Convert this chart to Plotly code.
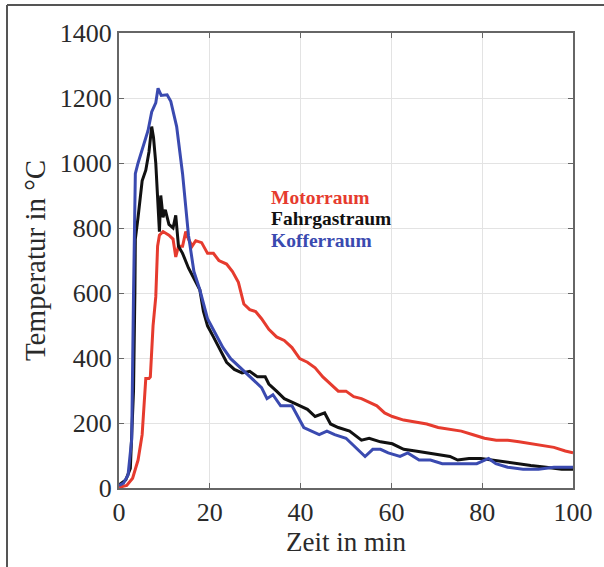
import plotly.graph_objects as go

# Motorraum (red)
motor_x = [0, 1.7, 3, 4.2, 5.1, 5.5, 5.9, 6.6, 6.9, 7.5, 8.1, 8.5, 8.9, 9.7, 11, 11.9, 12.5, 13.1, 14, 14.7,
           15.3, 16.1, 16.9, 18.2, 19.5, 20.8, 22, 23.7, 25, 26.3, 27.5, 28.8, 30.1, 31.4, 33, 34.7, 36.4, 38.1,
           39.8, 41.5, 43.2, 44.9, 46.6, 48.3, 50, 51.7, 53.4, 55.1, 56.8, 58.5, 60.2, 62.7, 65.3, 67.8, 70.3,
           72.9, 75.4, 78, 80.5, 83.1, 85.6, 88.1, 90.7, 93.2, 95.8, 98.3, 100]
motor_y = [2, 8, 30, 86, 164, 264, 337, 337, 342, 499, 588, 744, 778, 789, 778, 766, 711, 744, 744, 789,
           766, 744, 761, 755, 722, 722, 700, 689, 666, 633, 566, 549, 543, 521, 488, 465, 454, 432,
           398, 387, 370, 342, 320, 298, 298, 281, 275, 264, 253, 231, 220, 209, 203, 197, 186,
           181, 175, 164, 153, 147, 147, 142, 136, 131, 125, 114, 108]

# Fahrgastraum (black)
fahr_x = [0, 1.5, 2.5, 3.2, 3.5, 3.6, 4.2, 5.1, 5.9, 6.6, 7.2, 7.6, 8.1, 8.5, 8.9, 9.2, 9.7, 10.2, 11, 11.9,
          12.5, 13.1, 14, 15.3, 16.5, 17.8, 18.6, 19.5, 20.8, 22, 23.7, 25.4, 27.1, 28.8, 30.5, 32.2, 33,
          34.7, 36.4, 38.1, 39.8, 41.5, 43.2, 45.3, 46.6, 48.3, 50.8, 53.4, 55.1, 57.6, 60.2, 62.7, 65.3,
          67.8, 70.3, 72.9, 74.6, 77.1, 79.7, 82.2, 84.7, 87.3, 90.7, 94.1, 97.5, 100]
fahr_y = [10, 25, 60, 300, 600, 766, 833, 945, 978, 1034, 1112, 1079, 1000, 878, 789, 900, 833, 856, 811, 800,
          839, 744, 722, 677, 644, 610, 543, 499, 465, 432, 387, 365, 354, 359, 342, 342, 320,
          298, 275, 264, 253, 242, 220, 231, 197, 186, 175, 147, 153, 142, 136, 119, 114,
          108, 103, 97, 86, 91, 91, 86, 80, 75, 69, 64, 58, 58]

# Kofferraum (blue)
koffer_x = [0, 1, 2, 2.8, 3.2, 3.6, 4.2, 5.5, 6.4, 7.2, 8.1, 8.6, 9.3, 10.6, 11.4, 12.7, 14, 15.3, 16.5, 17.8,
            19.5, 21.2, 22.9, 24.6, 26.3, 28, 29.7, 31.4, 32.6, 33.9, 35.6, 38.1, 40.7, 42.4, 44.1, 45.8,
            47.5, 50, 52.5, 54.2, 55.9, 57.6, 59.3, 61.9, 63.6, 66.1, 68.6, 71.2, 73.7, 76.3, 78.8, 81.4,
            83, 85.6, 89, 92.4, 95.8, 100]
koffer_y = [8, 15, 40, 150, 600, 967, 1000, 1056, 1100, 1157, 1185, 1230, 1208, 1210, 1190, 1112, 967, 778, 666, 610,
            521, 476, 432, 398, 376, 354, 331, 309, 275, 287, 253, 253, 186, 175, 164, 175,
            164, 153, 119, 97, 119, 119, 108, 97, 108, 86, 86, 75, 75, 75, 75, 91,
            75, 64, 58, 58, 64, 64]

legend_labels = ["Motorraum", "Fahrgastraum", "Kofferraum"]
legend_y = [893, 830, 762]

x_ticks = [0, 20, 40, 60, 80, 100]
y_ticks = [0, 200, 400, 600, 800, 1000, 1200, 1400]

RED = "#e63b2e"
BLACK = "#111111"
BLUE = "#3a4ab0"
colors = [RED, BLACK, BLUE]
SERIF = "Liberation Serif, DejaVu Serif, serif"
TXT = "#2a2a2a"

fig = go.Figure()
for xs, ys, c, name in [(motor_x, motor_y, RED, legend_labels[0]),
                        (fahr_x, fahr_y, BLACK, legend_labels[1]),
                        (koffer_x, koffer_y, BLUE, legend_labels[2])]:
    fig.add_trace(go.Scatter(x=xs, y=ys, mode="lines", name=name,
                             line=dict(color=c, width=3), showlegend=False))

for lab, ly, c in zip(legend_labels, legend_y, colors):
    fig.add_annotation(x=33.0, y=ly, text="<b>" + lab + "</b>", showarrow=False,
                       xanchor="left", yanchor="middle",
                       font=dict(family=SERIF, size=19.5, color=c))

# outer frame (left and top lines)
W, H = 604, 567
ml, mr, mt, mb = 119, 31, 33, 79
pw, ph = W - ml - mr, H - mt - mb
def px2paper_x(px):
    return (px - ml) / pw
def py2paper_y(py):
    return (H - mb - py) / ph
fig.add_shape(type="line", xref="paper", yref="paper",
              x0=px2paper_x(7), x1=px2paper_x(7), y0=py2paper_y(5), y1=py2paper_y(600),
              line=dict(color="#555555", width=2))
fig.add_shape(type="line", xref="paper", yref="paper",
              x0=px2paper_x(7), x1=px2paper_x(610), y0=py2paper_y(5), y1=py2paper_y(5),
              line=dict(color="#555555", width=2))

axis_common = dict(showline=True, linecolor="#666666", linewidth=2, mirror="allticks",
                   ticks="inside", ticklen=5, tickcolor="#666666", tickwidth=1,
                   showgrid=True, gridcolor="#e3e3e3", gridwidth=1, zeroline=False,
                   tickfont=dict(family=SERIF, size=26, color=TXT))

fig.update_xaxes(range=[0, 100], tickvals=x_ticks, title_text="Zeit in min",
                 title_font=dict(family=SERIF, size=27, color=TXT),
                 title_standoff=2, **axis_common)
fig.update_yaxes(range=[0, 1400], tickvals=y_ticks, title_text="Temperatur in °C",
                 title_font=dict(family=SERIF, size=29, color=TXT),
                 title_standoff=6, **axis_common)

fig.update_layout(width=W, height=H, margin=dict(l=ml, r=mr, t=mt, b=mb, autoexpand=False),
                  paper_bgcolor="white", plot_bgcolor="white")

fig.write_html("out.html")
